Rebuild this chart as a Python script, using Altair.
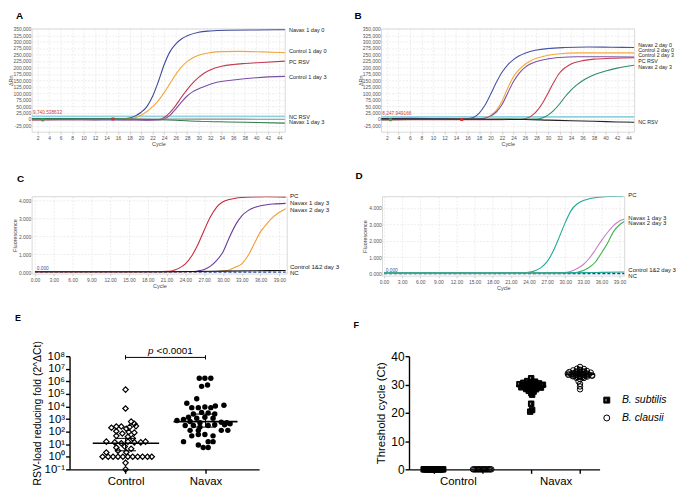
import json
import altair as alt
import pandas as pd

F_SW = "Liberation Sans"
F_PR = "Liberation Sans"

# ================= Panel A =================
A_NAMES = ["Navax 1 day 0", "Control 1 day 0", "PC RSV", "Control 1 day 3", "NC RSV", "Navax 1 day 3"]
A_COLORS = ["#3e4a9c", "#f0a83c", "#c03a50", "#7b4ea3", "#8a8a8a", "#2f7a52"]
a_nav1_d0_c = [1, 6, 12, 16, 18, 19, 20, 21, 22, 23, 24, 25, 26, 27, 28, 30, 32, 35, 40, 45]
a_nav1_d0_v = [2000, 1500, 800, 500, 4000, 12000, 26000, 48000, 88000, 145000, 210000, 260000, 290000, 310000, 322000, 336000, 341000, 344000, 345000, 346000]
a_ctl1_d0_c = [1, 6, 12, 16, 18, 19, 20, 21, 22, 23, 24, 25, 26, 27, 28, 29, 30, 32, 34, 37, 41, 45]
a_ctl1_d0_v = [-3000, -2000, -1000, 0, 1500, 5000, 14000, 29000, 48000, 71000, 102000, 137000, 172000, 201000, 222000, 237000, 247000, 257000, 261000, 262000, 260000, 257000]
a_pc_c = [1, 6, 12, 15, 18, 21, 23, 24, 25, 26, 27, 28, 29, 30, 31, 32, 34, 36, 38, 41, 45]
a_pc_v = [-4000, -3000, -2500, -2000, -3000, -3500, -2000, 6000, 25000, 52000, 84000, 114000, 140000, 161000, 178000, 190000, 204000, 211000, 215000, 219000, 224000]
a_ctl1_d3_c = [1, 6, 12, 18, 21, 23, 24, 25, 26, 27, 28, 29, 30, 31, 33, 36, 40, 45]
a_ctl1_d3_v = [-3000, -3000, -3500, -4000, -4500, -4000, 0, 14000, 38000, 65000, 89000, 106000, 117000, 126000, 141000, 151000, 160000, 165000]
a_nc_c = [1, 10, 20, 30, 45]
a_nc_v = [1000, 500, 0, -500, -1000]
a_nav1_d3_c = [1, 10, 18, 22, 26, 30, 35, 40, 45]
a_nav1_d3_v = [2000, 1000, 0, -2000, -5000, -9000, -11500, -13500, -16000]
A_LABEL_Y = [345000, 262000, 221000, 161000, 7500, -13000]
A_THRESHOLD = 9740.538632
A_THR_TEXT = "9,740.538632"
A_MARK_C = [15.1, 2.9]
A_MARK_V = [0, -3700]
A_MARK_COL = ["#d03030", "#3aa04a"]

# ================= Panel B =================
B_NAMES = ["Navax 2 day 0", "Control 2 day 0", "Control 2 day 3", "PC RSV", "Navax 2 day 3", "NC RSV"]
B_COLORS = ["#4654a5", "#f2aa3a", "#7d52a6", "#c73a4d", "#2f8c64", "#222222"]
b_nav2_d0_c = [1, 6, 12, 15, 16, 17, 18, 19, 20, 21, 22, 23, 24, 25, 26, 28, 30, 33, 37, 41, 45]
b_nav2_d0_v = [2000, 2500, 1500, 1000, 1500, 6000, 22000, 52000, 95000, 141000, 181000, 210000, 230000, 245000, 255000, 267000, 273000, 277000, 279000, 278000, 277000]
b_ctl2_d0_c = [1, 6, 12, 16, 18, 19, 20, 21, 22, 23, 24, 25, 26, 27, 28, 30, 32, 35, 40, 45]
b_ctl2_d0_v = [-3000, -2000, -1000, -500, 1000, 5000, 14000, 33000, 69000, 120000, 164000, 192000, 212000, 226000, 235000, 247000, 253000, 256000, 256000, 256000]
b_ctl2_d3_c = [1, 6, 12, 16, 18, 19, 20, 21, 22, 23, 24, 25, 26, 27, 28, 30, 32, 35, 40, 45]
b_ctl2_d3_v = [-2000, -1500, -1000, 0, 1000, 3000, 11000, 27000, 56000, 101000, 145000, 178000, 200000, 214000, 223000, 233000, 238000, 241000, 241000, 240000]
b_pc_c = [1, 6, 12, 15, 20, 25, 26, 27, 28, 29, 30, 31, 32, 33, 34, 35, 36, 38, 41, 45]
b_pc_v = [-4000, -3000, -2500, -3000, -2500, -2000, 1000, 10000, 29000, 60000, 100000, 142000, 178000, 199000, 213000, 221000, 226000, 232000, 235000, 237000]
b_nav2_d3_c = [1, 6, 12, 18, 24, 28, 29, 30, 31, 32, 33, 34, 35, 36, 37, 38, 40, 42, 45]
b_nav2_d3_v = [-3000, -2000, -1500, -1000, -500, 0, 4000, 15000, 33000, 58000, 87000, 112000, 132000, 148000, 161000, 171000, 186000, 197000, 208000]
b_nc_c = [1, 10, 20, 26, 30, 34, 38, 42, 45]
b_nc_v = [1000, 0, -1000, -2000, -4500, -7000, -9000, -11500, -12700]
B_LABEL_Y = [286000, 266000, 247000, 225000, 202000, -10000]
B_THRESHOLD = 8247.949166
B_THR_TEXT = "8,247.949166"
B_MARK_C = [15.0, 2.6]
B_MARK_V = [-2000, -3000]
B_MARK_COL = ["#d03030", "#3aa04a"]

AB_X_TICKS = list(range(2, 45, 2))
AB_Y_TICKS = list(range(-25000, 350001, 25000))

# ================= Panel C =================
C_NAMES = ["PC", "Navax 1 day 3", "Navax 2 day 3", "Control 1&2 day 3", "NC"]
C_COLORS = ["#c8283c", "#6a3d9a", "#f39c32", "#111111", "#2b4c9c"]
c_pc_c = [0, 5, 10, 15, 20, 21.4, 22.4, 23, 24, 25, 26, 27, 28, 29, 30, 31, 32, 33, 35, 37, 40]
c_pc_v = [0.02, 0.02, 0.02, 0.02, 0.03, 0.04, 0.13, 0.22, 0.46, 0.9, 1.55, 2.35, 3.1, 3.65, 3.95, 4.08, 4.15, 4.19, 4.22, 4.23, 4.21]
c_nav1_c = [0, 10, 20, 25, 26, 27, 28, 29, 30, 31, 32, 33, 34, 35, 36, 37, 38, 40]
c_nav1_v = [0.02, 0.02, 0.02, 0.03, 0.06, 0.14, 0.33, 0.65, 1.13, 1.93, 2.65, 3.16, 3.45, 3.62, 3.72, 3.78, 3.82, 3.86]
c_nav2_c = [0, 10, 20, 29, 30, 31, 32, 33, 34, 35, 36, 37, 38, 39, 40]
c_nav2_v = [0.02, 0.02, 0.02, 0.03, 0.05, 0.12, 0.28, 0.46, 0.93, 1.6, 2.27, 2.71, 3.1, 3.36, 3.56]
c_ctl_c = [0, 20, 25, 30, 35, 40]
c_ctl_v = [0.02, 0.02, 0.03, 0.05, 0.07, 0.09]
c_nc_c = [0, 40]
c_nc_v = [0.0, 0.0]
C_LABEL_Y = [4.25, 3.85, 3.47, 0.28, -0.06]

# ================= Panel D =================
D_NAMES = ["PC", "Navax 1 day 3", "Navax 2 day 3", "Control 1&2 day 3", "NC"]
D_COLORS = ["#1fa99a", "#c67fc4", "#3db34a", "#1fa99a", "#1f3f8f"]
d_pc_c = [0, 10, 20, 23.3, 24.4, 25, 26, 27, 28, 29, 30, 31, 32, 33, 34, 35, 36, 37, 38, 39.6]
d_pc_v = [0.04, 0.04, 0.04, 0.05, 0.1, 0.17, 0.36, 0.72, 1.35, 2.2, 3.1, 3.85, 4.25, 4.45, 4.56, 4.62, 4.66, 4.69, 4.7, 4.71]
d_nav1_c = [0, 10, 20, 29, 30, 31, 32, 33, 34, 35, 36, 37, 38, 39, 39.8]
d_nav1_v = [0.03, 0.03, 0.03, 0.04, 0.06, 0.14, 0.3, 0.55, 0.93, 1.45, 2.0, 2.5, 2.92, 3.2, 3.32]
d_nav2_c = [0, 10, 20, 31, 32, 33, 34, 35, 36, 37, 38, 39, 39.8]
d_nav2_v = [0.03, 0.03, 0.03, 0.04, 0.08, 0.18, 0.38, 0.7, 1.25, 1.85, 2.55, 2.97, 3.17]
d_ctl_c = [0, 20, 30, 35, 39.8]
d_ctl_v = [0.03, 0.03, 0.04, 0.06, 0.09]
d_nc_c = [0, 39.8]
d_nc_v = [0.0, 0.0]
D_LABEL_Y = [4.81, 3.39, 3.05, 0.22, -0.18]

CD_X_TICKS = list(range(0, 40, 3))
CD_Y_TICKS = [0, 1, 2, 3, 4]

# ================= Panel E =================
E_CTRL_DX = [0, 0, 0.07, 0.11, -0.115, -0.053, -0.176, 0.05, 0.13, 0.01, -0.115, -0.04, 0.04, 0.11,
             -0.115, 0.03, 0.09, -0.24, -0.135, -0.053, 0.03, 0.11, 0.19, 0.25, -0.115, -0.01, 0.07,
             -0.094, 0.01, -0.24, -0.287, -0.217, -0.156, -0.094, -0.033, 0.029, 0.09, 0.152, 0.213,
             0.275, 0.328, 0, 0]
E_CTRL_VAL = [2.2e5, 6900, 630, 420, 257, 257, 204, 229, 275, 170, 107, 71, 93, 83, 46, 39, 29, 16, 14,
              12, 16, 14, 14, 16, 5.4, 6.5, 4.3, 3.0, 2.3, 2.2, 1, 1, 1, 1, 1, 1, 1, 1, 1, 1, 1, 0.33, 0.1]
E_NAV_DX = [-0.078, -0.008, 0.066, -0.049, 0.025, -0.11, -0.234, 0.23, -0.172, -0.09, -0.008, 0.066,
            0.123, -0.152, -0.049, 0.033, 0.115, -0.213, -0.11, -0.008, 0.094, -0.357, -0.275, -0.193,
            -0.07, 0.197, 0.266, -0.254, -0.152, -0.07, 0.033, 0.115, 0.238, 0.307, -0.193, -0.09,
            0.197, 0.279, -0.09, -0.008, -0.172, 0.094, -0.275, 0.033, 0.094, -0.09, -0.029, 0.033]
E_NAV_VAL = [1.74e6, 1.74e6, 1.74e6, 4.0e5, 5.2e5, 4.1e4, 1.8e4, 1.26e4, 8100, 8100, 9100, 8100, 1.1e4,
             2500, 3400, 3000, 2500, 1380, 1150, 1380, 1150, 760, 910, 630, 500, 560, 500, 309, 309,
             229, 309, 347, 347, 417, 126, 126, 126, 126, 59, 59, 46, 46, 16, 16, 16, 8.7, 5.4, 5.4]
E_MEDIAN = [12, 630]
E_Q1 = [3.0, 230]
E_Q3 = [29, 2500]
E_Y_TICKS = [0.1, 1, 10, 100, 1e3, 1e4, 1e5, 1e6, 1e7, 1e8]
E_Y_LABELS = ["10⁻¹", "10⁰", "10¹", "10²", "10³", "10⁴", "10⁵", "10⁶", "10⁷", "10⁸"]
E_BRACKET_Y = 8e7
E_P_TEXT_Y = 2.45e8

# ================= Panel F =================
F_SPECIES = ["B. subtilis", "B. clausii"]
F_CTRL_SUB_DX = [-0.2, -0.175, -0.15, -0.125, -0.1, -0.075, -0.05, -0.025, 0.0, 0.025, 0.05, 0.075,
                 0.1, 0.125, 0.15, 0.175, 0.2]
F_CTRL_CLA_DX = [-0.19, -0.165, -0.14, -0.115, -0.09, -0.065, -0.04, -0.015, 0.01, 0.035, 0.06, 0.085,
                 0.11, 0.135, 0.16, 0.185]
F_NAV_SUB_VAL = [32.2, 31.2, 31.0, 30.6, 30.5, 30.4, 30.1, 30.0, 30.0, 29.9, 29.6, 29.5, 29.5, 29.3,
                 29.2, 29.0, 28.9, 28.7, 28.4, 28.3, 27.8, 27.5, 27.0, 26.4, 23.2, 21.0, 20.4,
                 30.3, 30.3, 29.8, 29.8, 29.8, 29.1, 29.1, 28.6, 28.6, 30.8]
F_NAV_SUB_DX = [0.0, -0.08, 0.08, -0.16, 0.0, 0.16, -0.24, -0.08, 0.08, 0.24, -0.16, 0.0, 0.16, -0.08,
                0.08, -0.2, 0.2, 0.0, -0.1, 0.1, -0.05, 0.05, 0.0, 0.02, 0.0, 0.02, -0.02,
                -0.04, 0.04, -0.12, 0.0, 0.12, -0.12, 0.12, -0.06, 0.06, 0.0]
F_NAV_CLA_VAL = [36.2, 35.6, 35.5, 35.0, 34.9, 34.8, 34.4, 34.3, 34.3, 34.2, 33.8, 33.7, 33.7, 33.4,
                 33.3, 33.3, 33.2, 32.9, 32.8, 32.8, 32.4, 32.3, 31.9, 31.1, 30.2, 29.3, 28.3,
                 34.0, 34.0, 34.0, 33.5, 33.5, 33.5, 33.5, 33.0, 33.0, 33.0, 34.6, 34.6, 32.6, 32.6,
                 35.2, 33.9, 33.1]
F_NAV_CLA_DX = [0.0, -0.06, 0.08, -0.14, 0.0, 0.14, -0.22, -0.07, 0.07, 0.22, -0.15, 0.0, 0.15, -0.24,
                -0.08, 0.08, 0.24, -0.15, 0.0, 0.15, -0.08, 0.08, 0.0, -0.03, 0.0, 0.0, 0.0,
                -0.12, 0.0, 0.12, -0.18, -0.06, 0.06, 0.18, -0.12, 0.0, 0.12, -0.08, 0.08, -0.05, 0.05,
                0.0, -0.25, 0.25]
F_MED_POS = [3, 4]
F_MED_VAL = [29.4, 33.6]
F_Y_TICKS = [0, 10, 20, 30, 40]
HALF_SQ = "M-1,-1H1V1H-1Z M-0.55,-0.55V0.55H0.05V-0.55Z"


def letter_title(t, dx, off, size=10):
    return alt.TitleParams(text=t, anchor="start", frame="group", dx=dx, offset=off,
                           fontSize=size, fontWeight="bold", font=F_PR, color="black")


def amp_panel(letter, ldx, loff, names, colors, curves, dashed, label_y, label_size, label_dx,
              xdom, xticks, xfmt, ydom, yticks, ylabel_expr, ytitle, ytitle_pad, w, h,
              thr=None, thr_color="#8fd3e3", thr_text=None, thr_text_color="#d04040",
              thr_text_x=None, thr_text_y=None, marks=None):
    cf = "curve" + letter
    rows = []
    for n, (cs, vs) in zip(names, curves):
        for c, v in zip(cs, vs):
            rows.append({cf: n, "cycle": c, "value": v})
    df = pd.DataFrame(rows)
    xe = alt.X("cycle:Q", scale=alt.Scale(domain=xdom, nice=False, zero=False),
               axis=alt.Axis(values=xticks, format=xfmt, title="Cycle", grid=True,
                             gridColor="#e0e0e0", gridDash=[2, 1.5], gridWidth=0.6,
                             domain=False, tickSize=2, tickColor="#c8c8c8", labelFont=F_SW,
                             labelFontSize=5, labelColor="#555", labelPadding=2, labelOverlap=False,
                             titleFont=F_SW, titleFontSize=5.5, titleFontWeight="normal",
                             titleColor="#444", titlePadding=1))
    ye = alt.Y("value:Q", scale=alt.Scale(domain=ydom, nice=False, zero=False),
               axis=alt.Axis(values=yticks, labelExpr=ylabel_expr, title=ytitle, grid=True,
                             gridColor="#e0e0e0", gridDash=[2, 1.5], gridWidth=0.6,
                             domain=False, ticks=False, labelFont=F_SW, labelFontSize=5,
                             labelColor="#555", labelPadding=1, labelOverlap=False,
                             titleFont=F_SW, titleFontSize=5.5, titleFontWeight="normal",
                             titleColor="#444", titlePadding=ytitle_pad))
    col = alt.Color(cf + ":N", scale=alt.Scale(domain=names, range=colors), legend=None)
    layers = []
    if thr is not None:
        layers.append(alt.Chart(pd.DataFrame({"value": [thr]})).mark_rule(
            color=thr_color, strokeWidth=1.8).encode(ye))
    dash_df = df[df[cf].isin(dashed)]
    solid_df = df[~df[cf].isin(dashed)]
    if len(dash_df):
        layers.append(alt.Chart(dash_df).mark_line(strokeWidth=1.3, strokeDash=[3, 2], clip=True)
                      .encode(xe, ye, col))
    layers.append(alt.Chart(solid_df).mark_line(strokeWidth=1.1, interpolate="monotone", clip=True)
                  .encode(xe, ye, col))
    if thr_text is not None:
        layers.append(alt.Chart(pd.DataFrame({"cycle": [thr_text_x], "value": [thr_text_y], "t": [thr_text]}))
                      .mark_text(align="left", baseline="bottom", dy=-1, fontSize=4.8, font=F_SW,
                                 color=thr_text_color).encode(xe, ye, text="t:N"))
    if marks is not None:
        mc, mv, mcol = marks
        layers.append(alt.Chart(pd.DataFrame({"cycle": mc, "value": mv, "mk" + letter: mcol}))
                      .mark_point(shape="square", filled=True, size=9, opacity=1)
                      .encode(xe, ye, color=alt.Color("mk" + letter + ":N", scale=None)))
    lab = pd.DataFrame({"cycle": [xdom[1]] * len(names), "value": label_y, "t": names})
    layers.append(alt.Chart(lab).mark_text(align="left", baseline="middle", dx=label_dx,
                                           fontSize=label_size, font=F_SW, color="#1a1a1a")
                  .encode(xe, ye, text="t:N"))
    return alt.layer(*layers).properties(
        width=w, height=h, title=letter_title(letter, ldx, loff),
        view=alt.ViewBackground(stroke="#cfcfcf", strokeWidth=0.8))


AB_LABEL_EXPR = "replace(format(datum.value, ',.0f'), '\u2212', '-')"
CD_LABEL_EXPR = "format(datum.value, '.3f')"

panel_a = amp_panel("A", -16, 6, A_NAMES, A_COLORS,
                    [(a_nav1_d0_c, a_nav1_d0_v), (a_ctl1_d0_c, a_ctl1_d0_v), (a_pc_c, a_pc_v),
                     (a_ctl1_d3_c, a_ctl1_d3_v), (a_nc_c, a_nc_v), (a_nav1_d3_c, a_nav1_d3_v)],
                    [], A_LABEL_Y, 5.6, 4, [1, 45], AB_X_TICKS, "d", [-50000, 350000], AB_Y_TICKS,
                    AB_LABEL_EXPR, "ΔRn", -1, 255, 104, thr=A_THRESHOLD, thr_text=A_THR_TEXT,
                    thr_text_x=1.2, thr_text_y=A_THRESHOLD, marks=(A_MARK_C, A_MARK_V, A_MARK_COL))

panel_b = amp_panel("B", -27, 6, B_NAMES, B_COLORS,
                    [(b_nav2_d0_c, b_nav2_d0_v), (b_ctl2_d0_c, b_ctl2_d0_v), (b_ctl2_d3_c, b_ctl2_d3_v),
                     (b_pc_c, b_pc_v), (b_nav2_d3_c, b_nav2_d3_v), (b_nc_c, b_nc_v)],
                    [], B_LABEL_Y, 5.3, 4, [1, 45], AB_X_TICKS, "d", [-50000, 350000], AB_Y_TICKS,
                    AB_LABEL_EXPR, "ΔRn", -1, 255, 104, thr=B_THRESHOLD, thr_text=B_THR_TEXT,
                    thr_text_x=1.2, thr_text_y=B_THRESHOLD, marks=(B_MARK_C, B_MARK_V, B_MARK_COL))

panel_c = amp_panel("C", -15, 9, C_NAMES, C_COLORS,
                    [(c_pc_c, c_pc_v), (c_nav1_c, c_nav1_v), (c_nav2_c, c_nav2_v),
                     (c_ctl_c, c_ctl_v), (c_nc_c, c_nc_v)],
                    ["NC"], C_LABEL_Y, 6.2, 3, [-0.5, 40.2], CD_X_TICKS, ".2f", [-0.1, 4.25],
                    CD_Y_TICKS, CD_LABEL_EXPR, "Fluorescence", 1, 257, 78, thr_text="0.000",
                    thr_text_color="#3355aa", thr_text_x=0.3, thr_text_y=0.0)

panel_d = amp_panel("D", -27, 11, D_NAMES, D_COLORS,
                    [(d_pc_c, d_pc_v), (d_nav1_c, d_nav1_v), (d_nav2_c, d_nav2_v),
                     (d_ctl_c, d_ctl_v), (d_nc_c, d_nc_v)],
                    ["NC"], D_LABEL_Y, 6.0, 4, [-0.3, 39.8], CD_X_TICKS, ".2f", [-0.14, 4.7],
                    CD_Y_TICKS, CD_LABEL_EXPR, "Fluorescence", 1, 244, 80, thr_text="0.000",
                    thr_text_color="#3355aa", thr_text_x=0.3, thr_text_y=0.0)

# ---------------- Panel E ----------------
PR_AX = dict(domainColor="black", domainWidth=1.4, tickColor="black", tickWidth=1.4, grid=False,
             labelFont=F_PR, labelColor="black", titleFont=F_PR, titleColor="black",
             titleFontWeight="normal", labelOverlap=False)
E_SHIFT = 38
E_W = 229
e_label_expr = json.dumps(E_Y_LABELS, ensure_ascii=False) + "[round(log(datum.value)/LN10) + 1]"
ex = alt.X("x:Q", scale=alt.Scale(domain=[0.3, 2.67], nice=False, zero=False, range=[E_SHIFT, E_W]),
           axis=alt.Axis(values=[1, 2], labelExpr="datum.value == 1 ? 'Control' : 'Navax'",
                         title=None, tickSize=4, labelFontSize=11.5, labelPadding=2, **PR_AX))
ey = alt.Y("y:Q", scale=alt.Scale(type="log", domain=[0.1, 1e8], nice=False),
           axis=alt.Axis(values=E_Y_TICKS, labelExpr=e_label_expr, offset=-E_SHIFT,
                         title="RSV-load reducing fold (2^ΔCt)", tickSize=4, labelFontSize=11.5,
                         labelPadding=1, titleFontSize=10.5, titlePadding=2, **PR_AX))

e_ctrl = pd.DataFrame({"x": [1 + d for d in E_CTRL_DX], "y": E_CTRL_VAL})
e_nav = pd.DataFrame({"x": [2 + d for d in E_NAV_DX], "y": E_NAV_VAL})
e_med = pd.DataFrame({"x": [0.59, 1.6], "x2": [1.42, 2.4], "y": E_MEDIAN})
e_iqr = pd.DataFrame({"x": [1, 2], "y": E_Q1, "y2": E_Q3})
e_caps = pd.DataFrame({"x": [0.87, 1.87, 0.87, 1.87], "x2": [1.13, 2.13, 1.13, 2.13],
                       "y": E_Q1 + E_Q3})
e_br = pd.DataFrame({"x": [1], "x2": [2], "y": [E_BRACKET_Y]})
e_br_end = pd.DataFrame({"x": [1, 2], "y": [5.5e7, 1.2e8], "y2": [1.2e8, 5.5e7]})
e_txt = pd.DataFrame({"x": [1.5], "y": [E_P_TEXT_Y]})

panel_e = alt.layer(
    alt.Chart(e_iqr).mark_rule(color="black", strokeWidth=1).encode(ex, ey, alt.Y2("y2")),
    alt.Chart(e_caps).mark_rule(color="black", strokeWidth=1).encode(ex, alt.X2("x2"), ey),
    alt.Chart(e_ctrl).mark_point(shape="diamond", filled=False, color="black", strokeWidth=1.2,
                                 size=30, opacity=1).encode(ex, ey),
    alt.Chart(e_nav).mark_point(shape="circle", filled=True, color="black", size=30,
                                opacity=1).encode(ex, ey),
    alt.Chart(e_med).mark_rule(color="black", strokeWidth=1.6).encode(ex, alt.X2("x2"), ey),
    alt.Chart(e_br).mark_rule(color="black", strokeWidth=1).encode(ex, alt.X2("x2"), ey),
    alt.Chart(e_br_end).mark_rule(color="black", strokeWidth=1).encode(ex, ey, alt.Y2("y2")),
    alt.Chart(e_txt).mark_text(text="p", fontStyle="italic", align="right", dx=-12, fontSize=10,
                               font=F_PR, color="black", baseline="middle").encode(ex, ey),
    alt.Chart(e_txt).mark_text(text="<0.0001", align="left", dx=-9, fontSize=10, font=F_PR,
                               color="black", baseline="middle").encode(ex, ey),
).properties(width=E_W, height=114, title=letter_title("E", -17, 18, 9))

# ---------------- Panel F ----------------
rows = []
for d in F_CTRL_SUB_DX:
    rows.append({"x": 1 + d, "y": 0.0, "sp": F_SPECIES[0]})
for d in F_CTRL_CLA_DX:
    rows.append({"x": 2 + d, "y": 0.0, "sp": F_SPECIES[1]})
for v, d in zip(F_NAV_SUB_VAL, F_NAV_SUB_DX):
    rows.append({"x": 3 + d, "y": v, "sp": F_SPECIES[0]})
for v, d in zip(F_NAV_CLA_VAL, F_NAV_CLA_DX):
    rows.append({"x": 4 + d, "y": v, "sp": F_SPECIES[1]})
f_df = pd.DataFrame(rows)
f_med = pd.DataFrame({"x": [p - 0.31 for p in F_MED_POS], "x2": [p + 0.31 for p in F_MED_POS],
                      "y": F_MED_VAL})

fx = alt.X("x:Q", scale=alt.Scale(domain=[0.5, 4.4], nice=False, zero=False),
           axis=alt.Axis(values=[1, 1.5, 2, 3, 3.5, 4],
                         labelExpr="datum.value == 1.5 ? 'Control' : (datum.value == 3.5 ? 'Navax' : '')",
                         tickOpacity={"condition": {"test": "datum.value == 1.5 || datum.value == 3.5",
                                                    "value": 0}, "value": 1},
                         title=None, tickSize=4, labelFontSize=11.5, labelPadding=2, **PR_AX))
fy = alt.Y("y:Q", scale=alt.Scale(domain=[0, 40], nice=False, zero=False),
           axis=alt.Axis(values=F_Y_TICKS, title="Threshold cycle (Ct)", tickSize=4,
                         labelFontSize=12, labelPadding=1, titleFontSize=11.5, titlePadding=4,
                         **PR_AX))
f_leg = alt.Legend(title=None, orient="none", legendX=194, legendY=39, labelFont=F_PR,
                   labelFontSize=10.5, labelFontStyle="italic", labelColor="black",
                   symbolSize=36, rowPadding=7, labelOffset=10, padding=0, symbolStrokeWidth=1)
panel_f = alt.layer(
    alt.Chart(f_df).mark_point(stroke="black", strokeWidth=1, size=30, opacity=1).encode(
        fx, fy,
        shape=alt.Shape("sp:N", scale=alt.Scale(domain=F_SPECIES, range=[HALF_SQ, "circle"]),
                        legend=f_leg),
        fill=alt.Fill("sp:N", scale=alt.Scale(domain=F_SPECIES, range=["black", "transparent"]),
                      legend=f_leg)),
    alt.Chart(f_med).mark_rule(color="black", strokeWidth=1.5).encode(fx, alt.X2("x2"), fy),
).properties(width=192, height=114, title=letter_title("F", -56, 20, 9))

RES = dict(color="independent", fill="independent", shape="independent")
row1 = alt.hconcat(panel_a, panel_b, spacing=97, bounds="flush").resolve_scale(**RES).resolve_legend(**RES)
row2 = alt.hconcat(panel_c, panel_d, spacing=96, bounds="flush").resolve_scale(**RES).resolve_legend(**RES)
row3 = alt.hconcat(panel_e, panel_f, spacing=151, bounds="flush").resolve_scale(**RES).resolve_legend(**RES)

chart = alt.vconcat(row1, row2, row3, spacing=22).resolve_scale(**RES).resolve_legend(**RES).properties(
    padding=0, background="white"
).configure_view(stroke=None)

chart.save("out.html", embed_options={"renderer": "svg", "actions": False})
